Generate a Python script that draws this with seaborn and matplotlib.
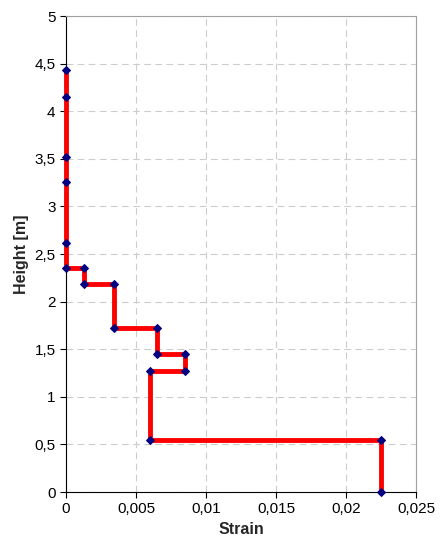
import pandas as pd
import numpy as np
import matplotlib
matplotlib.use('Agg')
import matplotlib.pyplot as plt
import matplotlib.ticker as mticker
import seaborn as sns

strain = [0.0225, 0.0225, 0.006, 0.006, 0.0085, 0.0085, 0.0065, 0.0065,
          0.0034, 0.0034, 0.0013, 0.0013, 0.0, 0.0, 0.0, 0.0, 0.0, 0.0]
height = [0.0, 0.55, 0.55, 1.27, 1.27, 1.45, 1.45, 1.72,
          1.72, 2.18, 2.18, 2.35, 2.35, 2.62, 3.26, 3.52, 4.15, 4.43]

df = pd.DataFrame({'Strain': strain, 'Height': height})

sns.set_style('white')
plt.rcParams['font.family'] = ['Liberation Sans', 'DejaVu Sans']

fig = plt.figure(figsize=(4.4, 5.52), dpi=100)
ax = fig.add_axes([66 / 440, 60 / 552, (416 - 66) / 440, (492 - 16) / 552])

sns.lineplot(data=df, x='Strain', y='Height', sort=False, estimator=None,
             errorbar=None, ax=ax, clip_on=False,
             color='#ff0000', linewidth=3.5, marker='D', markersize=4.5,
             markerfacecolor='#000080', markeredgecolor='#000080', zorder=3)

ax.set_xlim(0, 0.025)
ax.set_ylim(0, 5)
ax.xaxis.set_major_locator(mticker.MultipleLocator(0.005))
ax.yaxis.set_major_locator(mticker.MultipleLocator(0.5))

def comma_fmt(v, pos):
    s = ('%.3f' % v).rstrip('0').rstrip('.')
    return s.replace('.', ',')

ax.xaxis.set_major_formatter(mticker.FuncFormatter(comma_fmt))
ax.yaxis.set_major_formatter(mticker.FuncFormatter(comma_fmt))

ax.grid(True, color='#cccccc', linestyle=(0, (6, 4)), linewidth=0.8)
ax.set_axisbelow(True)
for side in ['top', 'right']:
    ax.spines[side].set_color('#a0a0a0')
for side in ['left', 'bottom']:
    ax.spines[side].set_color('black')
ax.tick_params(axis='both', direction='out', length=4, width=0.8,
               labelsize=11, colors='black', bottom=True, left=True)

ax.set_xlabel('Strain', fontsize=11.5, fontweight='bold')
ax.set_ylabel('Height [m]', fontsize=11.5, fontweight='bold')

fig.savefig('out.png', dpi=100)
